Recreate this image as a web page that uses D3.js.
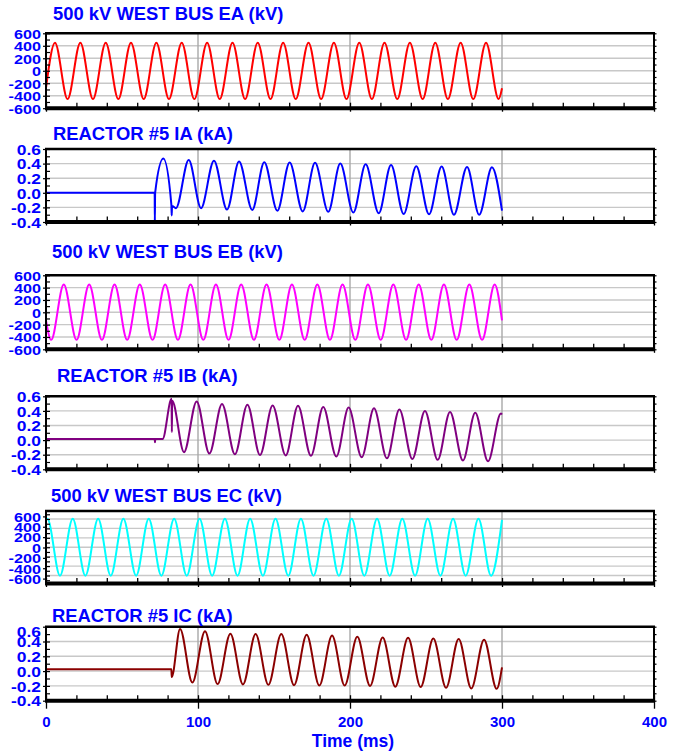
<!DOCTYPE html>
<html><head><meta charset="utf-8">
<script src="https://cdn.jsdelivr.net/npm/d3@7"></script>
<style>
html,body{margin:0;padding:0;background:#fff;}
svg{display:block;font-family:"Liberation Sans",Arial,sans-serif;font-weight:bold;}
</style></head>
<body><svg id="chart" width="676" height="753"></svg>
<script>
// ---------- data ----------
const titles = ["500 kV WEST BUS EA (kV)","REACTOR #5 IA (kA)","500 kV WEST BUS EB (kV)","REACTOR #5 IB (kA)","500 kV WEST BUS EC (kV)","REACTOR #5 IC (kA)"];
const timeTicks = [0,100,200,300,400];
const kvTicks = [-600,-400,-200,0,200,400,600];
const kaTicks = [-0.4,-0.2,0.0,0.2,0.4,0.6];
const xLabel = "Time (ms)";

// waveform extrema [time ms, value]
const eaPts = [[0,-275],[5.9,450],[14.2,-453],[22.6,450],[30.9,-453],[39.3,450],[47.6,-453],[55.9,450],[64.3,-453],[72.6,450],[80.9,-453],[89.3,450],[97.6,-453],[106.0,450],[114.3,-453],[122.7,450],[131.0,-453],[139.3,450],[147.7,-453],[156.0,450],[164.3,-453],[172.7,450],[181.0,-453],[189.4,450],[197.7,-453],[206.1,450],[214.4,-453],[222.7,450],[231.1,-453],[239.4,450],[247.8,-453],[256.1,450],[264.4,-453],[272.8,450],[281.1,-453],[289.5,450],[297.8,-453],[300,-280]];
const iaPts = [[0,0.0],[71.5,0.0],[71.6,-0.39],[71.8,0.0],[77.2,0.47],[82.5,-0.17],[82.7,-0.31],[82.9,-0.18],[85.5,-0.21],[93.9,0.45],[102.0,-0.21],[110.5,0.44],[119.1,-0.23],[127.0,0.43],[135.7,-0.235],[143.6,0.42],[152.2,-0.245],[160.3,0.415],[168.9,-0.255],[177.0,0.41],[185.7,-0.26],[193.6,0.40],[202.2,-0.27],[210.3,0.39],[218.9,-0.28],[227.0,0.38],[235.3,-0.29],[243.6,0.365],[252.0,-0.295],[260.3,0.36],[268.4,-0.30],[277.0,0.355],[285.0,-0.30],[293.4,0.35],[300,-0.245]];
const ebPts = [[0,-130],[3.4,-447],[11.7,452],[20.1,-447],[28.4,452],[36.8,-447],[45.1,452],[53.4,-447],[61.7,452],[70.1,-447],[78.4,452],[86.8,-447],[95.1,452],[103.5,-447],[111.8,452],[120.1,-447],[128.4,452],[136.8,-447],[145.1,452],[153.5,-447],[161.8,452],[170.2,-447],[178.5,452],[186.8,-447],[195.1,452],[203.5,-447],[211.8,452],[220.2,-447],[228.5,452],[236.9,-447],[245.2,452],[253.5,-447],[261.8,452],[270.2,-447],[278.5,452],[286.9,-447],[295.2,452],[300,-130]];
const ibPts = [[0,0.015],[71.5,0.015],[71.7,-0.03],[71.9,0.015],[76.7,0.015],[82.6,0.565],[82.8,0.11],[83.0,0.54],[90.8,-0.165],[99.1,0.53],[107.5,-0.185],[115.8,0.495],[124.3,-0.195],[132.5,0.485],[140.8,-0.205],[149.1,0.475],[157.7,-0.21],[165.8,0.47],[174.3,-0.215],[182.4,0.455],[191.0,-0.225],[199.1,0.445],[207.7,-0.235],[215.8,0.435],[224.3,-0.25],[232.5,0.42],[241.0,-0.26],[249.3,0.40],[257.7,-0.27],[265.8,0.385],[274.3,-0.28],[282.4,0.375],[290.8,-0.29],[299.3,0.365],[300,0.35]];
const ecPts = [[0,578],[0.9,607],[9.2,-605],[17.6,607],[25.9,-605],[34.3,607],[42.6,-605],[50.9,607],[59.3,-605],[67.6,607],[75.9,-605],[84.3,607],[92.6,-605],[101.0,607],[109.3,-605],[117.7,607],[126.0,-605],[134.3,607],[142.7,-605],[151.0,607],[159.4,-605],[167.7,607],[176.0,-605],[184.4,607],[192.7,-605],[201.1,607],[209.4,-605],[217.8,607],[226.1,-605],[234.4,607],[242.8,-605],[251.1,607],[259.5,-605],[267.8,607],[276.1,-605],[284.5,607],[292.8,-605],[300,580]];
const icPts = [[0,0.025],[82.5,0.025],[82.7,-0.08],[88.2,0.57],[96.3,-0.155],[104.6,0.54],[112.9,-0.175],[121.3,0.505],[129.6,-0.18],[137.9,0.50],[146.3,-0.185],[154.8,0.50],[163.2,-0.19],[171.5,0.49],[179.8,-0.195],[188.2,0.48],[196.5,-0.195],[204.8,0.465],[213.2,-0.2],[221.5,0.455],[229.8,-0.21],[238.2,0.45],[246.5,-0.215],[254.8,0.44],[263.2,-0.225],[271.5,0.435],[279.8,-0.235],[288.2,0.425],[296.5,-0.24],[300,0.05]];

// ---------- layout ----------
const seriesList = [eaPts, iaPts, ebPts, ibPts, ecPts, icPts];
const colors = ["#ff0000","#0000ff","#ff00ff","#800080","#00ffff","#8b0000"];
const layout = [
  {top:33.3, bottom:108.2, dom:[-600,600], lab:null, tx:53, ty:19.5, kv:true},
  {top:149, bottom:222, dom:[-0.4,0.6], lab:null, tx:53, ty:139.5, kv:false},
  {top:275.3, bottom:349.3, dom:[-600,600], lab:null, tx:52, ty:258, kv:true},
  {top:396.3, bottom:469.3, dom:[-0.4,0.6], lab:null, tx:57, ty:382, kv:false},
  {top:511, bottom:583.5, dom:[-770,770], lab:[578.6,516.4], tx:51, ty:502, kv:true},
  {top:626.7, bottom:700.7, dom:[-0.4,0.6], lab:null, tx:52, ty:622, kv:false, nudgeTop:true}
];
const X0 = 46, X1 = 654;
const blue = "#0000ff";

const svg = d3.select("#chart");
const x = d3.scaleLinear().domain([0,400]).range([X0,X1]);

layout.forEach((L, i) => {
  const g = svg.append("g");
  const y = d3.scaleLinear().domain(L.dom).range([L.bottom, L.top]);
  const ticks = L.kv ? kvTicks : kaTicks;
  const step = L.kv ? 100 : 0.1;
  const minor = d3.range(Math.ceil(L.dom[0]/step - 1e-9), Math.floor(L.dom[1]/step + 1e-9) + 1).map(k => +(k*step).toFixed(3));

  // horizontal grid
  g.append("g").selectAll("line").data(ticks.filter(v => y(v) > L.top + 1 && y(v) < L.bottom - 1)).join("line")
    .attr("x1", X0).attr("x2", X1).attr("y1", d => y(d)).attr("y2", d => y(d))
    .attr("stroke", "#c8c8c8").attr("stroke-width", 1.4);
  // vertical grid
  g.append("g").selectAll("line").data(timeTicks.filter(t => t > 0 && t < 400)).join("line")
    .attr("x1", d => x(d)).attr("x2", d => x(d)).attr("y1", L.top).attr("y2", L.bottom)
    .attr("stroke", "#a8a8a8").attr("stroke-width", 1.4);

  // waveform
  const line = d3.line().x(d => x(d[0])).y(d => y(d[1])).curve(d3.curveMonotoneX);
  g.append("path").datum(seriesList[i]).attr("d", line)
    .attr("fill", "none").attr("stroke", colors[i]).attr("stroke-width", 2);

  // left inner minor ticks
  const inner = g.append("g").attr("transform", `translate(${X0},0)`)
    .call(d3.axisRight(y).tickValues(minor).tickSize(4).tickFormat(""));
  inner.select(".domain").remove();
  inner.selectAll("line").attr("stroke", "#000").attr("stroke-width", 1.2);
  // right ticks
  const rt = g.append("g").attr("transform", `translate(${X1},0)`)
    .call(d3.axisRight(y).tickValues(minor).tickSize(2.5).tickFormat(""));
  rt.select(".domain").remove();
  rt.selectAll("line").attr("stroke", "#000").attr("stroke-width", 1.2);

  // left labels
  const ly = L.lab ? d3.scaleLinear().domain([-600,600]).range(L.lab) : y;
  const fmt = L.kv ? d3.format("d") : d3.format(".1f");
  const sx = 1.2;
  const la = g.append("g").attr("transform", `translate(${X0},0)`)
    .call(d3.axisLeft(ly).tickValues(ticks).tickSize(3).tickPadding(5).tickFormat(d => fmt(d).replace("−","-")));
  la.select(".domain").remove();
  la.selectAll("line").attr("stroke", "#000").attr("stroke-width", 1.2);
  la.selectAll("text").attr("fill", blue).attr("font-size", L.kv ? 13.5 : 14.5)
    .attr("font-family", "'Liberation Sans',Arial,sans-serif").attr("font-weight", "bold")
    .attr("x", -5/sx).attr("transform", `scale(${sx},1)`)
    .attr("dy", (d) => (L.nudgeTop && d === ticks[ticks.length-1]) ? "0.7em" : "0.36em");

  // bottom minor ticks (inward)
  const bt = g.append("g").attr("transform", `translate(0,${L.bottom})`)
    .call(d3.axisBottom(x).tickValues(d3.range(0, 401, 20)).tickSize(-5.5).tickFormat(""));
  bt.select(".domain").remove();
  bt.selectAll("line").attr("stroke", "#000").attr("stroke-width", 1.3);
  // bottom major ticks (outward)
  const last = i === layout.length - 1;
  const mt = g.append("g").attr("transform", `translate(0,${L.bottom})`)
    .call(d3.axisBottom(x).tickValues(timeTicks).tickSize(last ? 8 : 3.5).tickPadding(8).tickFormat(last ? d3.format("d") : ""));
  mt.select(".domain").remove();
  mt.selectAll("line").attr("stroke", "#000").attr("stroke-width", 1.3);
  mt.selectAll("text").attr("fill", blue).attr("font-size", 15)
    .attr("font-family", "'Liberation Sans',Arial,sans-serif").attr("font-weight", "bold");

  // frame
  g.append("line").attr("x1", X0 - 1).attr("x2", X1 + 1).attr("y1", L.top).attr("y2", L.top).attr("stroke", "#000").attr("stroke-width", 2.5);
  g.append("line").attr("x1", X0).attr("x2", X0).attr("y1", L.top).attr("y2", L.bottom).attr("stroke", "#000").attr("stroke-width", 2);
  g.append("line").attr("x1", X1).attr("x2", X1).attr("y1", L.top).attr("y2", L.bottom).attr("stroke", "#000").attr("stroke-width", 2);
  g.append("line").attr("x1", X0 - 1).attr("x2", X1 + 1).attr("y1", L.bottom).attr("y2", L.bottom).attr("stroke", "#000").attr("stroke-width", 4);

  // title
  g.append("text").attr("x", L.tx).attr("y", L.ty).text(titles[i])
    .attr("fill", blue).attr("font-size", 18.4).attr("font-weight", "bold");
});

svg.append("text").attr("x", (X0 + X1) / 2 + 3).attr("y", 747).attr("text-anchor", "middle")
  .attr("fill", blue).attr("font-size", 17.5).attr("font-weight", "bold").text(xLabel);
</script></body></html>
